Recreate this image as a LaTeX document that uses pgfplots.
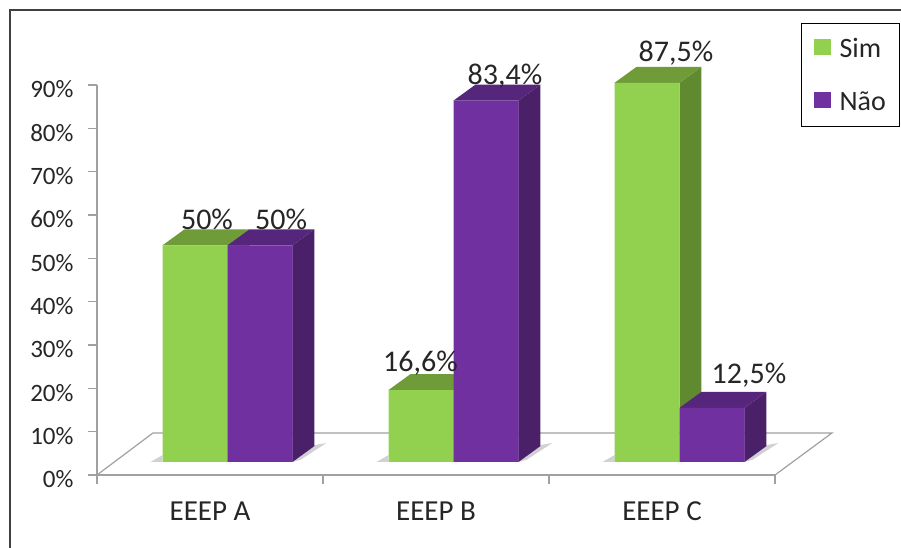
\documentclass[border=0pt]{standalone}
\usepackage{pgfplots}
\pgfplotsset{compat=1.18}
\usepackage{fontspec}
\setmainfont{Carlito}
\definecolor{simfront}{HTML}{92D050}
\definecolor{simtop}{HTML}{6F9B39}
\definecolor{simside}{HTML}{5F8A30}
\definecolor{naofront}{HTML}{7030A0}
\definecolor{naotop}{HTML}{56267C}
\definecolor{naoside}{HTML}{4A2169}
\definecolor{axisgray}{HTML}{A0A0A0}
\definecolor{inkdark}{HTML}{262626}
\definecolor{shade}{HTML}{D2D0D4}

% Top and side faces of a 3D column: left x, right x, value, top colour, side colour
\newcommand{\columnfaces}[5]{%
  \pgfmathsetmacro{\xa}{#1+0.0973}%
  \pgfmathsetmacro{\xb}{#2+0.0973}%
  \pgfmathsetmacro{\vb}{#3+3.69}%
  \addplot[forget plot,fill=#5,draw=none,yshift=13pt] coordinates {(#2,0)(\xb,3.69)(\xb,\vb)(#2,#3)} -- cycle;
  \addplot[forget plot,fill=#4,draw=none,yshift=13pt] coordinates {(#1,#3)(#2,#3)(\xb,\vb)(\xa,\vb)} -- cycle;
}
% Soft floor shadows beside a pair of columns: left edge and right edge
\newcommand{\floorshadow}[2]{%
  \pgfmathsetmacro{\sa}{#2+0.0973}%
  \pgfmathsetmacro{\sb}{#2+0.1504}%
  \pgfmathsetmacro{\sc}{#2+0.0354}%
  \pgfmathsetmacro{\sd}{#1-0.0531}%
  \addplot[forget plot,fill=shade,draw=none] coordinates {(#2,3)(\sa,6.9)(\sb,7.4)(\sc,3.5)} -- cycle;
  \addplot[forget plot,fill=shade,draw=none] coordinates {(\sd,3)(#1,3)(#1,4.6)} -- cycle;
}

\begin{document}
\begin{tikzpicture}
  \path[use as bounding box] (-97pt,-73pt) rectangle (804pt,475pt);
  \begin{axis}[
    scale only axis, width=678pt, height=390pt,
    xmin=-0.5, xmax=2.5, ymin=0, ymax=90,
    clip=false,
    axis x line=bottom, axis y line=left,
    axis line style={-, draw=axisgray, line width=1.3pt},
    tick style={draw=axisgray, line width=1.2pt},
    tick align=outside, major tick length=9pt,
    xtick={-0.5,0.5,1.5,2.5}, xticklabels={},
    extra x ticks={0,1,2},
    extra x tick labels={EEEP A,EEEP B,EEEP C},
    extra x tick style={major tick length=0pt,
      tick label style={font=\fontsize{29}{32}\selectfont, text=inkdark, yshift=-23pt}},
    ytick={0,10,...,90},
    yticklabel={\pgfmathprintnumber{\tick}\%},
    /pgf/number format/assume math mode=true,
    yticklabel style={font=\fontsize{25}{28}\selectfont, text=inkdark, xshift=-11pt, yshift=-4.5pt},
    legend cell align=left,
    legend image code/.code={\fill[#1] (0pt,-19.5pt) rectangle (17pt,-3.5pt); \path (24pt,-10pt);},
    legend style={at={(1.0383,1.159)}, anchor=north west, draw=black, line width=1.2pt,
      font=\fontsize{28}{32}\selectfont, text=inkdark,
      row sep=28pt, inner xsep=12pt, inner ysep=13pt},
  ]
    % Floor of the chart
    \addplot[forget plot,draw=axisgray,line width=1.2pt] coordinates {(-0.5,0)(-0.2522,9.7)(2.752,9.7)(2.5,0)};

    \floorshadow{-0.2102}{0.3650}
    \floorshadow{0.7898}{1.3650}
    \floorshadow{1.7898}{2.3650}

    % Depth faces, back to front
    \columnfaces{-0.2102}{0.0774}{50}{simtop}{simside}
    \columnfaces{0.7898}{1.0774}{16.6}{simtop}{simside}
    \columnfaces{1.7898}{2.0774}{87.5}{simtop}{simside}
    \columnfaces{0.0774}{0.3650}{50}{naotop}{naoside}
    \columnfaces{1.0774}{1.3650}{83.4}{naotop}{naoside}
    \columnfaces{2.0774}{2.3650}{12.5}{naotop}{naoside}

    % Front faces
    \addplot[ybar, bar width=65pt, bar shift=-15pt, yshift=13pt, fill=simfront, draw=none]
      coordinates {(0,50)(1,16.6)(2,87.5)};
    \addlegendentry{Sim}
    \addplot[ybar, bar width=65pt, bar shift=50pt, yshift=13pt, fill=naofront, draw=none]
      coordinates {(0,50)(1,83.4)(2,12.5)};
    \addlegendentry{Não}

    % Value labels
    \begin{scope}[every node/.style={font=\fontsize{30}{32}\selectfont, text=inkdark, inner sep=0pt}]
      \node at (axis cs:-0.0133,59.0) {50\%};
      \node at (axis cs:0.3142,59.0) {50\%};
      \node at (axis cs:0.9314,25.8) {16,6\%};
      \node at (axis cs:1.3053,92.0) {83,4\%};
      \node at (axis cs:2.0619,97.3) {87,5\%};
      \node at (axis cs:2.385,23.0) {12,5\%};
    \end{scope}
  \end{axis}
  % Outer frame: left and top edges
  \draw[draw=black!75,line width=2.2pt] (-87pt,-73pt) -- (-87pt,465pt) -- (804pt,465pt);
\end{tikzpicture}
\end{document}
